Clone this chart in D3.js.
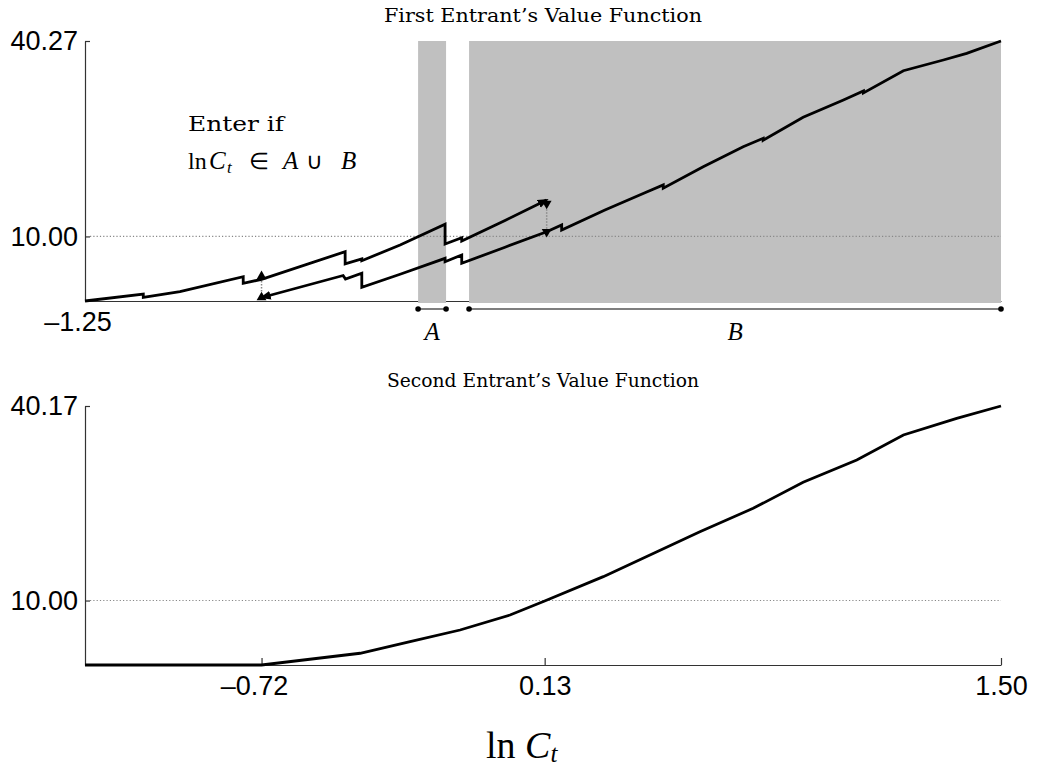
<!DOCTYPE html>
<html><head><meta charset="utf-8">
<script src="https://cdn.jsdelivr.net/npm/d3@7"></script>
<style>body{margin:0;background:#fff} svg{display:block}</style>
</head><body>
<svg id="c" width="1039" height="770"></svg>
<script>
// ---------- data ----------
const xDomain = [-1.25, 1.5];
const firstYMax = 40.27;
const secondYMax = 40.17;
const firstYTicks = [10, 40.27];
const secondYTicks = [10, 40.17];
const firstXTicks = [-1.25];
const secondXTicks = [-0.72, 0.13, 1.5];
const guideLevel = 10;
const regionA = [-0.25, -0.166];
const regionB = [-0.097, 1.5];
const regionLabels = ["A", "B"];

// first entrant: upper branch (from -1.25) and lower branch (from -0.72)
const upperX = [-1.25,-1.075,-1.075,-0.965,-0.775,-0.775,-0.72,-0.469,-0.469,-0.419,-0.419,-0.304,-0.169,-0.169,-0.119,-0.119,0.011,0.136];
const upperY = [0,1.08,0.57,1.44,3.76,2.74,3.36,7.64,5.76,6.51,6.24,8.67,11.88,8.83,9.80,9.29,12.47,15.64];
const lowerX = [-0.719,-0.475,-0.468,-0.419,-0.419,-0.304,-0.169,-0.169,-0.119,-0.119,0.011,0.136,0.181,0.181,0.311,0.431,0.486,0.486,0.606,0.726,0.786,0.786,0.906,1.027,1.087,1.087,1.207,1.327,1.397,1.5];
const lowerY = [0.54,3.95,3.41,4.29,2.12,4.14,6.61,6.09,7.13,5.84,8.33,10.73,11.77,11.00,14.09,16.77,17.97,17.46,20.80,23.90,25.20,24.89,28.45,31.13,32.53,32.22,35.67,37.33,38.36,40.27];

// connectors between branches
const connectorX = [-0.72, 0.136];
const connectorLow = [0.54, 10.73];
const connectorHigh = [3.36, 15.64];
const connectorDir = ["up", "down"];

// second entrant
const secondX = [-1.25,-0.72,-0.424,-0.274,-0.124,0.026,0.13,0.306,0.596,0.756,0.906,1.067,1.207,1.367,1.5];
const secondY = [0,0,1.82,3.61,5.43,7.76,9.93,13.70,20.67,24.30,28.34,31.80,35.67,38.26,40.17];

// ---------- drawing ----------
const svg = d3.select("#c");
const L = 85, R = 1001;
const x = d3.scaleLinear().domain(xDomain).range([L, R]);
const y1 = d3.scaleLinear().domain([0, firstYMax]).range([301, 41]);
const y2 = d3.scaleLinear().domain([0, secondYMax]).range([665, 406]);

const tickFont = "'Liberation Sans', Arial, sans-serif";
const serif = "'DejaVu Serif', serif";
const serif2 = "'Liberation Serif', 'Times New Roman', serif";
const fmt = d3.format(".2f");

const defs = svg.append("defs");
defs.append("marker").attr("id","arr").attr("viewBox","0 0 10 10")
  .attr("refX",8).attr("refY",5).attr("markerWidth",11).attr("markerHeight",11)
  .attr("markerUnits","userSpaceOnUse").attr("orient","auto-start-reverse")
  .append("path").attr("d","M0,1 L10,5 L0,9 Z").attr("fill","#000");

function styleAxis(g){
  g.select(".domain").attr("stroke","#333").attr("stroke-width",1.2);
  g.selectAll(".tick line").attr("stroke","#333").attr("stroke-width",1.2);
  g.selectAll(".tick text").attr("font-family",tickFont).attr("font-size",27).attr("fill","#000");
}
function fixMinus(g){
  g.selectAll(".tick text").each(function(d){
    if (d < 0){
      const t = d3.select(this);
      t.text(fmt(-d));
      const w = this.getComputedTextLength();
      t.text("\u2013" + fmt(-d)).attr("text-anchor","end").attr("x", w/2);
    }
  });
}

// ---- top panel ----
const topG = svg.append("g");
const gx1 = topG.append("g").attr("transform",`translate(0,${y1(0)})`)
  .call(d3.axisBottom(x).tickValues(firstXTicks).tickSize(0).tickSizeOuter(0).tickPadding(11).tickFormat(fmt));
styleAxis(gx1); fixMinus(gx1);

[regionA, regionB].forEach(r=>{
  topG.append("rect").attr("x",x(r[0])).attr("width",x(r[1])-x(r[0]))
    .attr("y",y1(firstYMax)).attr("height",y1(0)-y1(firstYMax)+2).attr("fill","#c0c0c0");
});

const gy1 = topG.append("g").attr("transform",`translate(${L},0)`)
  .call(d3.axisLeft(y1).tickValues(firstYTicks).tickSize(-5).tickSizeOuter(0).tickPadding(7).tickFormat(fmt));
styleAxis(gy1);

topG.append("line").attr("x1",L+5).attr("x2",R).attr("y1",y1(guideLevel)).attr("y2",y1(guideLevel))
  .attr("stroke","#888").attr("stroke-width",1.2).attr("stroke-dasharray","1.2,2.1");

const yInt = y1(0) + 8;
[regionA, regionB].forEach((r,i)=>{
  topG.append("line").attr("x1",x(r[0])).attr("x2",x(r[1])).attr("y1",yInt).attr("y2",yInt)
    .attr("stroke","#555").attr("stroke-width",1.5);
  r.forEach(v=> topG.append("circle").attr("cx",x(v)).attr("cy",yInt).attr("r",2.8).attr("fill","#000"));
  topG.append("text").attr("x",(x(r[0])+x(r[1]))/2).attr("y",yInt+31).attr("text-anchor","middle")
    .attr("font-family",serif2).attr("font-style","italic").attr("font-size",25).text(regionLabels[i]);
});

connectorX.forEach((cx,i)=>{
  topG.append("line").attr("x1",x(cx)).attr("x2",x(cx))
    .attr("y1",y1(connectorLow[i])).attr("y2",y1(connectorHigh[i]))
    .attr("stroke","#888").attr("stroke-width",1.5).attr("stroke-dasharray","1.5,1.5");
});

const line1 = d3.line().x(d=>x(d[0])).y(d=>y1(d[1]));
topG.append("path").datum(d3.zip(upperX, upperY)).attr("d", line1)
  .attr("fill","none").attr("stroke","#000").attr("stroke-width",2.8).attr("stroke-linejoin","miter")
  .attr("marker-end","url(#arr)");
topG.append("path").datum(d3.zip(lowerX, lowerY)).attr("d", line1)
  .attr("fill","none").attr("stroke","#000").attr("stroke-width",2.8).attr("stroke-linejoin","miter")
  .attr("marker-start","url(#arr)");

const tri = d3.symbol().type(d3.symbolTriangle).size(42);
connectorX.forEach((cx,i)=>{
  const up = connectorDir[i] === "up";
  const ys = up ? [y1(connectorHigh[i]) - 3, y1(connectorLow[i])]
                : [y1(connectorHigh[i]) + 3.5, y1(connectorLow[i])];
  ys.forEach(py=>{
    topG.append("path").attr("d",tri()).attr("fill","#000")
      .attr("transform",`translate(${x(cx)},${py}) rotate(${up?0:180})`);
  });
});

topG.append("text").attr("x",(L+R)/2).attr("y",22).attr("text-anchor","middle")
  .attr("font-family",serif).attr("font-size",19).attr("textLength",318).attr("lengthAdjust","spacingAndGlyphs")
  .text("First Entrant\u2019s Value Function");
topG.append("text").attr("font-family",serif).attr("font-size",21).attr("x",188).attr("y",131)
  .attr("textLength",96).attr("lengthAdjust","spacingAndGlyphs").text("Enter if");
const l2 = topG.append("text").attr("font-family",serif2).attr("font-size",24).attr("y",169);
l2.append("tspan").attr("x",188).text("ln");
l2.append("tspan").attr("x",209).attr("font-style","italic").attr("font-size",25).text("C");
l2.append("tspan").attr("x",227).attr("font-style","italic").attr("font-size",17).attr("dy",4).text("t");
l2.append("tspan").attr("x",249).attr("dy",-4).attr("font-size",23).text("\u2208");
l2.append("tspan").attr("x",283).attr("font-style","italic").attr("font-size",25).text("A");
l2.append("tspan").attr("x",306).attr("font-size",23).text("\u222A");
l2.append("tspan").attr("x",341).attr("font-style","italic").attr("font-size",25).text("B");

// ---- bottom panel ----
const botG = svg.append("g");
const gx2 = botG.append("g").attr("transform",`translate(0,${y2(0)})`)
  .call(d3.axisBottom(x).tickValues(secondXTicks).tickSize(-7).tickSizeOuter(0).tickPadding(11).tickFormat(fmt));
styleAxis(gx2); fixMinus(gx2);
const gy2 = botG.append("g").attr("transform",`translate(${L},0)`)
  .call(d3.axisLeft(y2).tickValues(secondYTicks).tickSize(-5).tickSizeOuter(0).tickPadding(7).tickFormat(fmt));
styleAxis(gy2);
botG.append("line").attr("x1",L+5).attr("x2",R).attr("y1",y2(guideLevel)).attr("y2",y2(guideLevel))
  .attr("stroke","#888").attr("stroke-width",1.2).attr("stroke-dasharray","1.2,2.1");
const line2 = d3.line().x(d=>x(d[0])).y(d=>y2(d[1]));
botG.append("path").datum(d3.zip(secondX, secondY)).attr("d", line2)
  .attr("fill","none").attr("stroke","#000").attr("stroke-width",2.8);
botG.append("text").attr("x",(L+R)/2).attr("y",387).attr("text-anchor","middle")
  .attr("font-family",serif).attr("font-size",19).attr("textLength",312).attr("lengthAdjust","spacingAndGlyphs")
  .text("Second Entrant\u2019s Value Function");

const xt = svg.append("text").attr("x",486).attr("y",758).attr("font-family",serif2).attr("font-size",38);
xt.append("tspan").text("ln ");
xt.append("tspan").attr("font-style","italic").text("C");
xt.append("tspan").attr("font-style","italic").attr("font-size",25).attr("dy",4).text("t");
</script>
</body></html>
